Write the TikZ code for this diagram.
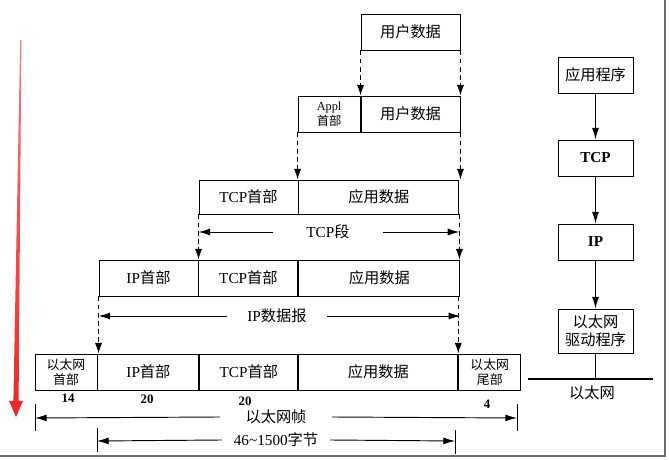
\documentclass[tikz,border=0pt]{standalone}
\usepackage{fontspec}
\setmainfont{Liberation Serif}
\newfontfamily\cjk{Noto Sans CJK SC}
\usepackage{tikz}
\usetikzlibrary{positioning,arrows.meta}
\newcommand{\zh}[1]{{\cjk #1}}
\definecolor{ArrowRed}{HTML}{E8282B}
\definecolor{FrameGray}{HTML}{6E6E6E}
\tikzset{
  cell/.style={draw,line width=0.8pt,inner sep=0pt,minimum height=1.08cm,
    font=\fontsize{13}{15}\selectfont,align=center},
  smallcell/.style={cell,font=\fontsize{11}{13}\selectfont},
  stackbox/.style={draw,line width=0.8pt,inner sep=0pt,minimum width=2.25cm,
    minimum height=1.08cm,font=\fontsize{13}{15}\selectfont,align=center},
  dimlabel/.style={inner sep=0pt,font=\fontsize{13}{15}\selectfont},
  sizelabel/.style={inner sep=0pt,font=\fontsize{11}{12}\selectfont\bfseries},
  dasharrow/.style={line width=0.8pt,dash pattern=on 4pt off 3pt,
    -{Latex[length=9pt,width=6pt]}},
  dimarrow/.style={line width=0.8pt,-{Latex[length=10pt,width=6pt]}},
  stackarrow/.style={line width=0.8pt,-{Latex[length=10pt,width=6pt]}},
  tick/.style={line width=0.8pt},
}

\begin{document}
\begin{tikzpicture}[x=0.03cm,y=-0.03cm,node distance=0pt]
  \useasboundingbox (0,0) rectangle (669,460);
  % frame shadow
  \draw[FrameGray,line width=1.8pt] (665,0) -- (665,456) -- (0,456);
  % red arrow
  \shade[top color=ArrowRed!60,bottom color=ArrowRed]
    (20.2,40) -- (21.4,40) -- (18.6,401) -- (23,401) -- (16,417)
    -- (9,401) -- (13.4,401) -- cycle;

  % packets
  \node[cell,minimum width=2.97cm] (ud1) at (410.5,32) {\zh{用户数据}};
  \node[cell,minimum width=2.97cm] (ud2) at (410.5,114) {\zh{用户数据}};
  \node[smallcell,minimum width=1.86cm,left=of ud2,
    font=\fontsize{10.5}{12.5}\selectfont] (appl) {Appl\\\zh{首部}};

  \node[cell,minimum height=1.02cm,minimum width=2.97cm] (tcph3) at (248.5,197) {TCP\zh{首部}};
  \node[cell,minimum height=1.02cm,minimum width=4.8cm,right=of tcph3] (ad3) {\zh{应用数据}};

  \node[cell,minimum width=2.97cm] (iph4) at (148.5,278) {IP\zh{首部}};
  \node[cell,minimum width=2.97cm,right=of iph4] (tcph4) {TCP\zh{首部}};
  \node[cell,minimum width=4.83cm,right=of tcph4] (ad4) {\zh{应用数据}};

  \node[smallcell,minimum width=1.86cm] (eh) at (66,372) {\zh{以太网}\\\zh{首部}};
  \node[cell,minimum width=3.03cm,right=of eh] (iph5) {IP\zh{首部}};
  \node[cell,minimum width=2.94cm,right=of iph5] (tcph5) {TCP\zh{首部}};
  \node[cell,minimum width=4.77cm,right=of tcph5] (ad5) {\zh{应用数据}};
  \node[smallcell,minimum width=1.86cm,right=of ad5] (et) {\zh{以太网}\\\zh{尾部}};

  \draw[dasharrow] (ud1.south west) -- (ud2.north west);
  \draw[dasharrow] (ud1.south east) -- (ud2.north east);
  \draw[dasharrow] (appl.south west) -- (appl.south west |- ad3.north);
  \draw[dasharrow] (ud2.south east) -- (ud2.south east |- ad3.north);
  \draw[dasharrow] (tcph3.south west) -- (tcph3.south west |- tcph4.north);
  \draw[dasharrow] (ad3.south east) -- (ad3.south east |- ad4.north);
  \draw[dasharrow] (iph4.south west) -- (iph4.south west |- iph5.north);
  \draw[dasharrow] (ad5.north east |- ad4.south) -- (ad5.north east);

  % sizes
  \node[sizelabel] (n14) at (68,398) {14};
  \node[sizelabel] (n20a) at (147,399) {20};
  \node[sizelabel] (n20b) at (245,401) {20};
  \node[sizelabel] (n4) at (487,404) {4};

  % dimension lines
  \node[dimlabel,minimum width=3.3cm] (seglbl) at (328,232) {TCP\zh{段}};
  \draw[dimarrow] (seglbl.west) -- (seglbl.west -| tcph3.west);
  \draw[dimarrow] (seglbl.east) -- (seglbl.east -| ad3.east);

  \node[dimlabel,minimum width=3.0cm] (dglbl) at (277,316) {IP\zh{数据报}};
  \draw[dimarrow] (dglbl.west) -- (dglbl.west -| iph4.west);
  \draw[dimarrow] (dglbl.east) -- (dglbl.east -| ad4.east);

  \coordinate (fL) at (35,418);
  \coordinate (fR) at (517,418);
  \draw[tick] (35,404) -- (35,431);
  \draw[tick] (517,404) -- (517,431);
  \node[dimlabel,minimum width=3.36cm] (framelbl) at (276,417) {\zh{以太网帧}};
  \draw[dimarrow] (framelbl.west) -- (fL);
  \draw[dimarrow] (framelbl.east) -- (fR);

  \coordinate (pL) at (97,441);
  \coordinate (pR) at (455,441);
  \draw[tick] (97,428) -- (97,452);
  \draw[tick] (455,430) -- (455,454);
  \node[dimlabel,minimum width=3.24cm] (paylbl) at (276,440) {46\textasciitilde1500\zh{字节}};
  \draw[dimarrow] (paylbl.west) -- (pL);
  \draw[dimarrow] (paylbl.east) -- (pR);

  % protocol stack
  \node[stackbox] (app) at (595.5,75) {\zh{应用程序}};
  \node[stackbox] (tcp) at (595.5,158) {\textbf{TCP}};
  \node[stackbox] (ip) at (595.5,242) {\textbf{IP}};
  \node[stackbox,minimum height=1.32cm] (drv) at (595.5,331) {\zh{以太网}\\\zh{驱动程序}};
  \draw[stackarrow] (app) -- (tcp);
  \draw[stackarrow] (tcp) -- (ip);
  \draw[stackarrow] (ip) -- (drv);
  \coordinate (ethL) at (528,379);
  \coordinate (ethR) at (653,379);
  \draw[line width=2.2pt] (ethL) -- (ethR);
  \draw[line width=0.8pt] (drv.south) -- (drv.south |- ethL);
  \node[dimlabel] (ethlbl) at (592,393) {\zh{以太网}};
\end{tikzpicture}
\end{document}
